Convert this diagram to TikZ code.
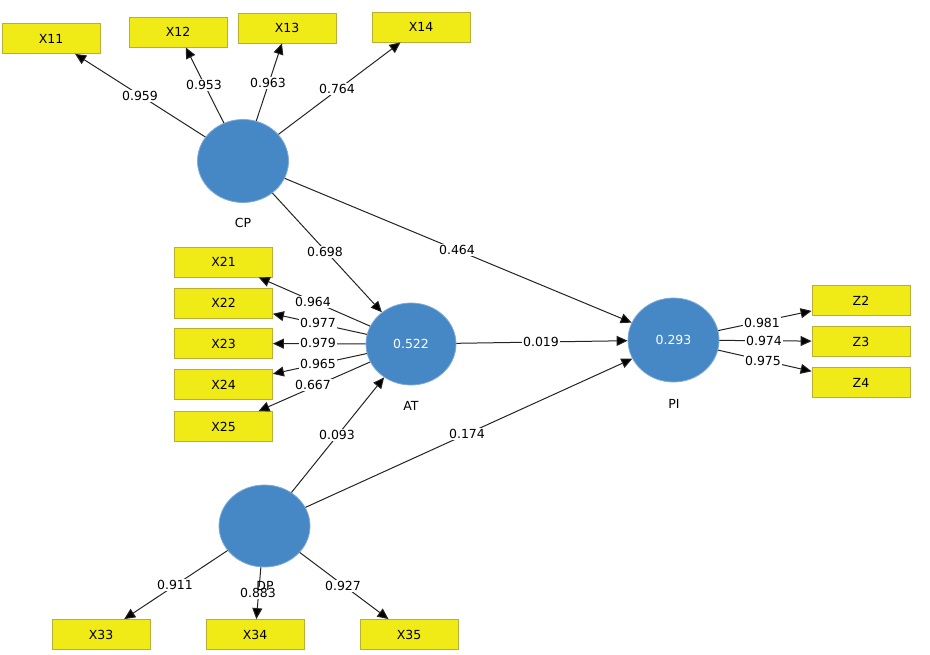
\documentclass[tikz,border=0pt]{standalone}
\usepackage{fontspec}
\setmainfont{DejaVu Sans}
\usetikzlibrary{arrows.meta,shapes.geometric,calc}
\definecolor{lvblue}{RGB}{70,135,198}
\definecolor{indyel}{RGB}{240,234,22}
\definecolor{indbrd}{RGB}{185,175,50}
\definecolor{lncol}{RGB}{35,35,35}
\tikzset{
  ind/.style={rectangle,draw=indbrd,line width=0.8pt,fill=indyel,minimum width=98pt,minimum height=30pt,inner sep=0pt,font=\fontsize{12.5}{14}\selectfont},
  lv/.style={ellipse,fill=lvblue,draw=lvblue!70!white,line width=0.8pt,inner sep=0pt,text=white,font=\fontsize{12.5}{14}\selectfont},
  lvname/.style={font=\fontsize{12.5}{14}\selectfont,inner sep=0pt},
  lbl/.style={fill=white,inner sep=1.2pt,font=\fontsize{12.5}{14}\selectfont},
  conn/.style={draw=lncol,line width=1pt,-{Triangle[length=11pt,width=10pt,fill=black]}}
}
\begin{document}
\begin{tikzpicture}[x=1pt,y=-1pt]
\useasboundingbox (0,0) rectangle (930,654);
% indicator boxes
\node[ind] (X11) at (51,38.5) {X11};
\node[ind] (X12) at (178,32) {X12};
\node[ind] (X13) at (287,28) {X13};
\node[ind] (X14) at (421,27) {X14};
\node[ind] (X21) at (223.5,262) {X21};
\node[ind] (X22) at (223.5,303) {X22};
\node[ind] (X23) at (223.5,343.5) {X23};
\node[ind] (X24) at (223.5,384.5) {X24};
\node[ind] (X25) at (223.5,426.5) {X25};
\node[ind] (Z2) at (861,300.5) {Z2};
\node[ind] (Z3) at (861,341.5) {Z3};
\node[ind] (Z4) at (861,382.5) {Z4};
\node[ind] (X33) at (101,634.5) {X33};
\node[ind] (X34) at (255,634.5) {X34};
\node[ind] (X35) at (409,634.5) {X35};
% latent variables
\node[lv,minimum width=91pt,minimum height=83pt] (CP) at (243,161) {};
\node[lv,minimum width=90pt,minimum height=82pt] (AT) at (411,344) {0.522};
\node[lv,minimum width=91pt,minimum height=84pt] (PI) at (673.5,340) {0.293};
\node[lv,minimum width=91pt,minimum height=82pt] (DP) at (264.5,526) {};
% connectors
\draw[conn] (CP) -- (X11);
\draw[conn] (CP) -- (X12);
\draw[conn] (CP) -- (X13);
\draw[conn] (CP) -- (X14);
\draw[conn] (CP) -- (AT);
\draw[conn] (CP) -- (PI);
\draw[conn] (AT) -- (X21);
\draw[conn] (AT) -- (X22);
\draw[conn] (AT) -- (X23);
\draw[conn] (AT) -- (X24);
\draw[conn] (AT) -- (X25);
\draw[conn] (AT) -- (PI);
\draw[conn] (DP) -- (AT);
\draw[conn] (DP) -- (PI);
\draw[conn] (PI) -- (Z2);
\draw[conn] (PI) -- (Z3);
\draw[conn] (PI) -- (Z4);
\draw[conn] (DP) -- (X33);
\draw[conn] (DP) -- (X34);
\draw[conn] (DP) -- (X35);
% labels
\node[lbl] (l11) at (140,96) {0.959};
\node[lbl] (l12) at (204,85) {0.953};
\node[lbl] (l13) at (268,83) {0.963};
\node[lbl] (l14) at (337,89) {0.764};
\node[lbl] (lcpat) at (325,252) {0.698};
\node[lbl] (lcppi) at (457,250) {0.464};
\node[lbl] (l21) at (313,302) {0.964};
\node[lbl] (l22) at (318,323) {0.977};
\node[lbl] (l23) at (318,343) {0.979};
\node[lbl] (l24) at (318,364) {0.965};
\node[lbl] (l25) at (313,385) {0.667};
\node[lbl] (latpi) at (541,342) {0.019};
\node[lbl] (ldpat) at (337,435) {0.093};
\node[lbl] (ldppi) at (467,434) {0.174};
\node[lbl] (lz2) at (762,323) {0.981};
\node[lbl] (lz3) at (764,341) {0.974};
\node[lbl] (lz4) at (763,361) {0.975};
\node[lbl] (l33) at (175,585) {0.911};
\node[lbl] (l34) at (258,593) {0.883};
\node[lbl] (l35) at (343,586) {0.927};
% latent names
\node[lvname] (nCP) at (243,223) {CP};
\node[lvname] (nAT) at (411,406) {AT};
\node[lvname] (nPI) at (674,404) {PI};
\node[lvname] (nDP) at (265,586) {DP};
\end{tikzpicture}
\end{document}
